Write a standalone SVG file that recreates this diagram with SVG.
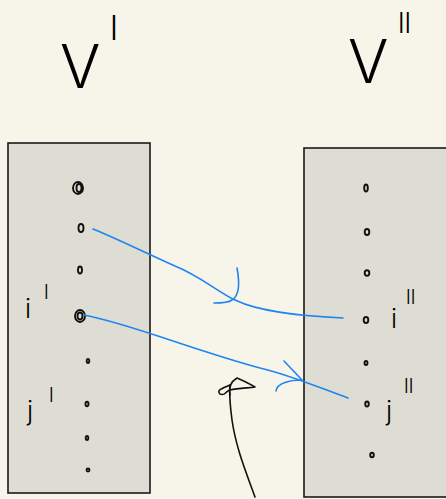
<svg xmlns="http://www.w3.org/2000/svg" width="446" height="499" viewBox="0 0 446 499">
<style>
.box{fill:#deddd3;stroke:#1a1a1a;stroke-width:1.6}
.lbl{font-family:"Inter","Open Sans","Liberation Sans",sans-serif;font-weight:300;fill:#000}
.dot{fill:none;stroke:#111;stroke-width:1.9}
.blue{fill:none;stroke:#1e84f2;stroke-width:1.6;stroke-linecap:round;stroke-linejoin:round}
.ink{fill:none;stroke:#111;stroke-width:1.6;stroke-linecap:round;stroke-linejoin:round}
</style>
<rect x="0" y="0" width="446" height="499" fill="#f7f5ea"/>
<g id="left-set">
<rect class="box" x="8" y="143" width="142" height="350"/>
<text class="lbl" x="60" y="88" font-size="60">V</text>
<text class="lbl" x="110" y="40" font-size="34">l</text>
<ellipse class="dot" cx="78" cy="188" rx="5" ry="6"/>
<ellipse class="dot" cx="79" cy="188" rx="2.5" ry="4"/>
<ellipse class="dot" cx="81" cy="228" rx="2.5" ry="4"/>
<ellipse class="dot" cx="80" cy="270" rx="2" ry="3.5"/>
<ellipse class="dot" cx="80" cy="316" rx="5" ry="6"/>
<ellipse class="dot" cx="80" cy="316" rx="2.5" ry="3.5"/>
<ellipse class="dot" cx="88" cy="361" rx="1.3" ry="2"/>
<ellipse class="dot" cx="87" cy="404" rx="1.5" ry="2.2"/>
<ellipse class="dot" cx="87" cy="438" rx="1.3" ry="2"/>
<ellipse class="dot" cx="88" cy="470" rx="1.5" ry="1.5"/>
<text class="lbl" x="25" y="318" font-size="26">i</text>
<text class="lbl" x="44" y="299" font-size="20">l</text>
<text class="lbl" x="27" y="420" font-size="26">j</text>
<text class="lbl" x="49" y="402" font-size="20">l</text>
</g>
<g id="right-set">
<rect class="box" x="304" y="148" width="150" height="349"/>
<text class="lbl" x="348" y="83" font-size="60">V</text>
<text class="lbl" x="398" y="33" font-size="28">ll</text>
<ellipse class="dot" cx="366" cy="188" rx="1.8" ry="3.5"/>
<ellipse class="dot" cx="367" cy="232" rx="2.3" ry="3"/>
<ellipse class="dot" cx="367" cy="273" rx="2.3" ry="2.8"/>
<ellipse class="dot" cx="366" cy="320" rx="2.3" ry="3"/>
<ellipse class="dot" cx="366" cy="363" rx="1.5" ry="2"/>
<ellipse class="dot" cx="367" cy="404" rx="1.8" ry="2.5"/>
<ellipse class="dot" cx="372" cy="455" rx="1.8" ry="2.3"/>
<text class="lbl" x="391" y="328" font-size="26">i</text>
<text class="lbl" x="406" y="304" font-size="20">ll</text>
<text class="lbl" x="386" y="420" font-size="26">j</text>
<text class="lbl" x="404" y="393" font-size="20">ll</text>
</g>
<g id="connectors">
<path class="blue" d="M93,229 C120,240 150,255 175,266 C200,276 218,292 235,300 C260,312 300,316 343,318"/>
<path class="blue" d="M237,268 C240,284 239,296 232,300 C228,303 220,303 214,303"/>
<path class="blue" d="M84,315 C110,320 140,330 170,340 C200,350 230,360 260,368 C290,375 320,388 348,398"/>
<path class="blue" d="M284,361 L302,380 C290,380 277,383 276,391"/>
<path class="ink" d="M255,497 C246,472 236,448 232,420 C230,405 229,395 230,385"/>
<path class="ink" d="M230,385 C223,388 216,390 220,394 C226,396 224,392 230,390 C238,388 248,388 255,387 C248,383 242,380 237,378 C232,381 228,386 230,395"/>
</g>
</svg>
